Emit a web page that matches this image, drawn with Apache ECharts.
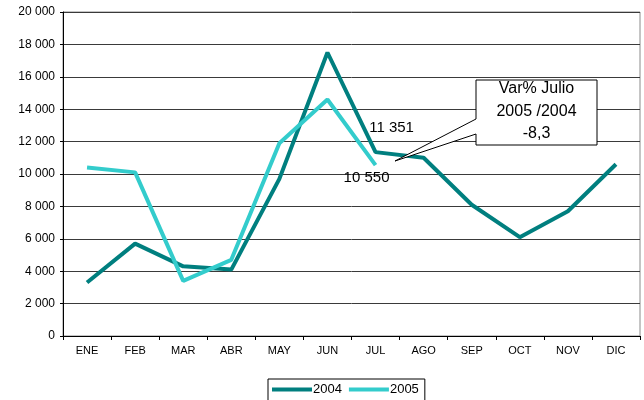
<!DOCTYPE html>
<html>
<head>
<meta charset="utf-8">
<title>Var% Julio 2005 / 2004</title>
<script src="https://cdn.jsdelivr.net/npm/echarts@6/dist/echarts.min.js"></script>
<style>
  html, body { margin: 0; padding: 0; background: #fff; }
  #chart { width: 644px; height: 400px; }
</style>
</head>
<body>
<div id="chart"></div>
<script>
// datos
const months = ['ENE', 'FEB', 'MAR', 'ABR', 'MAY', 'JUN', 'JUL', 'AGO', 'SEP', 'OCT', 'NOV', 'DIC']
const values2004 = [3300, 5700, 4300, 4100, 9700, 17500, 11351, 11000, 8100, 6100, 7700, 10600]
const values2005 = [10400, 10100, 3400, 4700, 11900, 14600, 10550, null, null, null, null, null]
const calloutLines = ['Var% Julio', '2005 /2004', '-8,3']
const labelledMonth = 'JUL'

const colors = { y2004: '#007f7f', y2005: '#33cccc' }
const font = 'Arial, "Liberation Sans", sans-serif'

// separador de miles con espacio
const fmt = (v) => String(Math.round(v)).replace(/\B(?=(\d{3})+(?!\d))/g, ' ')

const withLabel = (arr, labelOpts) => arr.map((v, i) => {
  if (months[i] !== labelledMonth || v == null) return v
  return { value: v, label: Object.assign({ show: true, formatter: (p) => fmt(p.value), color: '#000', fontSize: 15, fontFamily: font }, labelOpts) }
})

const chart = echarts.init(document.getElementById('chart'), null, { renderer: 'canvas' })

// globo de texto (callout)
const box = { x1: 476, y1: 80, x2: 597, y2: 145 }
const tip = [395, 161]
const callout = [
  {
    type: 'polygon',
    z: 100,
    shape: {
      points: [
        [box.x1, box.y1], [box.x2, box.y1], [box.x2, box.y2], [box.x1, box.y2],
        [box.x1, 134], tip, [box.x1, 119]
      ]
    },
    style: { fill: '#fff', stroke: '#000', lineWidth: 1, lineJoin: 'miter' }
  }
].concat(calloutLines.map((t, i) => ({
  type: 'text',
  z: 101,
  x: (box.x1 + box.x2) / 2,
  y: 89 + i * 22.5,
  style: { text: t, fill: '#000', font: '16px ' + font, align: 'center', verticalAlign: 'middle' }
})))

const option = {
  animation: false,
  backgroundColor: '#fff',
  grid: { left: 63, right: 4, top: 12, bottom: 64, show: true, borderColor: '#8a8a8a', borderWidth: 1 },
  legend: {
    left: 268,
    top: 379,
    data: ['2004', '2005'],
    icon: 'rect',
    itemWidth: 40,
    itemHeight: 4,
    itemGap: 7,
    padding: [4, 6, 12, 4],
    borderColor: '#000',
    borderWidth: 1,
    textStyle: { color: '#000', fontSize: 13, fontFamily: font, padding: [0, 0, 0, -4] }
  },
  xAxis: {
    type: 'category',
    data: months,
    boundaryGap: true,
    axisLine: { lineStyle: { color: '#000', width: 1 } },
    axisTick: { show: true, length: 4, lineStyle: { color: '#000' } },
    axisLabel: { color: '#000', fontSize: 11, fontFamily: font, margin: 9 },
    splitLine: { show: false }
  },
  yAxis: {
    type: 'value',
    min: 0,
    max: 20000,
    interval: 2000,
    axisLine: { show: true, lineStyle: { color: '#000', width: 1 } },
    axisTick: { show: true, length: 3, lineStyle: { color: '#000' } },
    axisLabel: { color: '#000', fontSize: 12, fontFamily: font, margin: 8, formatter: fmt },
    splitLine: { show: true, lineStyle: { color: '#3a3a3a', width: 1 } }
  },
  series: [
    {
      name: '2004',
      type: 'line',
      data: withLabel(values2004, { position: 'top', offset: [16, -12] }),
      symbol: 'circle',
      symbolSize: 0,
      showSymbol: true,
      lineStyle: { color: colors.y2004, width: 4 },
      itemStyle: { color: colors.y2004 }
    },
    {
      name: '2005',
      type: 'line',
      data: withLabel(values2005, { position: 'bottom', offset: [-9, 0] }),
      symbol: 'circle',
      symbolSize: 0,
      showSymbol: true,
      connectNulls: false,
      lineStyle: { color: colors.y2005, width: 4 },
      itemStyle: { color: colors.y2005 }
    }
  ],
  graphic: callout
}

chart.setOption(option)
</script>
</body>
</html>
